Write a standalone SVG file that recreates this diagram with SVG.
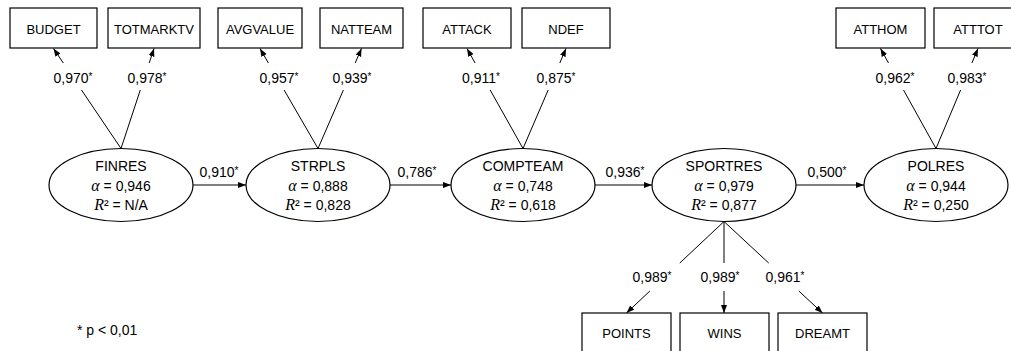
<svg xmlns="http://www.w3.org/2000/svg" width="1011" height="351" viewBox="0 0 1011 351">
<style>
text{font-family:"Liberation Sans",Arial,sans-serif;font-size:14px;fill:#000}
.box{fill:#fff;stroke:#000;stroke-width:1.2}
.bt{font-size:13px}
.lv{fill:#fff;stroke:#000;stroke-width:1.2}
.c{text-anchor:middle}
.ln{stroke:#000;stroke-width:1;fill:none}
.ar{stroke:#000;stroke-width:1;fill:none;marker-end:url(#ah)}
.it{font-family:"Liberation Serif","DejaVu Serif",serif;font-style:italic;font-size:16px}
.sup{font-size:10px}
</style>
<defs>
<marker id="ah" markerUnits="userSpaceOnUse" markerWidth="9" markerHeight="7" refX="8" refY="3" orient="auto">
<path d="M0,0 L8,3 L0,6 z" fill="#000"/>
</marker>
</defs>
<g id="connectors">
<line class="ln" x1="121" y1="148.5" x2="81.5" y2="90"/><line class="ar" x1="63.3" y1="63" x2="53.5" y2="48.5"/>
<line class="ln" x1="121" y1="148.5" x2="140.3" y2="90"/><line class="ar" x1="149.2" y1="63" x2="154" y2="48.5"/>
<line class="ln" x1="318" y1="148.5" x2="284.1" y2="90"/><line class="ar" x1="268.4" y1="63" x2="260" y2="48.5"/>
<line class="ln" x1="318" y1="148.5" x2="343.4" y2="90"/><line class="ar" x1="355.2" y1="63" x2="361.5" y2="48.5"/>
<line class="ln" x1="523" y1="148.5" x2="490.2" y2="90"/><line class="ar" x1="475.1" y1="63" x2="467" y2="48.5"/>
<line class="ln" x1="523" y1="148.5" x2="548.2" y2="90"/><line class="ar" x1="559.8" y1="63" x2="566" y2="48.5"/>
<line class="ln" x1="936" y1="148.5" x2="903.5" y2="90"/><line class="ar" x1="888.5" y1="63" x2="880.5" y2="48.5"/>
<line class="ln" x1="936" y1="148.5" x2="960.6" y2="90"/><line class="ar" x1="971.9" y1="63" x2="978" y2="48.5"/>
<line class="ar" x1="193" y1="185" x2="246" y2="185"/>
<line class="ar" x1="390" y1="185" x2="451" y2="185"/>
<line class="ar" x1="595" y1="185" x2="652" y2="185"/>
<line class="ar" x1="796" y1="185" x2="864" y2="185"/>
<line class="ln" x1="724" y1="221.5" x2="679.8" y2="263"/><line class="ar" x1="649.9" y1="291" x2="626.5" y2="313"/>
<line class="ln" x1="724" y1="221.5" x2="724" y2="263"/><line class="ar" x1="724" y1="291" x2="724" y2="313"/>
<line class="ln" x1="724" y1="221.5" x2="768.7" y2="263"/><line class="ar" x1="798.8" y1="291" x2="822.5" y2="313"/>
<text class="c" x="73" y="82.5">0,970<tspan class="sup" dy="-3">*</tspan></text>
<text class="c" x="147" y="82.5">0,978<tspan class="sup" dy="-3">*</tspan></text>
<text class="c" x="279" y="82.5">0,957<tspan class="sup" dy="-3">*</tspan></text>
<text class="c" x="352" y="82.5">0,939<tspan class="sup" dy="-3">*</tspan></text>
<text class="c" x="481" y="82.5">0,911<tspan class="sup" dy="-3">*</tspan></text>
<text class="c" x="556" y="82.5">0,875<tspan class="sup" dy="-3">*</tspan></text>
<text class="c" x="895" y="82.5">0,962<tspan class="sup" dy="-3">*</tspan></text>
<text class="c" x="967" y="82.5">0,983<tspan class="sup" dy="-3">*</tspan></text>
<text class="c" x="219" y="176.5">0,910<tspan class="sup" dy="-3">*</tspan></text>
<text class="c" x="417" y="176.5">0,786<tspan class="sup" dy="-3">*</tspan></text>
<text class="c" x="625" y="176.5">0,936<tspan class="sup" dy="-3">*</tspan></text>
<text class="c" x="827" y="176.5">0,500<tspan class="sup" dy="-3">*</tspan></text>
<text class="c" x="652" y="281.5">0,989<tspan class="sup" dy="-3">*</tspan></text>
<text class="c" x="720" y="281.5">0,989<tspan class="sup" dy="-3">*</tspan></text>
<text class="c" x="785" y="281.5">0,961<tspan class="sup" dy="-3">*</tspan></text>
</g>
<g id="BUDGET"><rect class="box" x="10" y="8" width="87" height="40"/><text class="c bt" x="53.5" y="33.5">BUDGET</text></g>
<g id="TOTMARKTV"><rect class="box" x="108" y="8" width="92" height="40"/><text class="c bt" x="154" y="33.5">TOTMARKTV</text></g>
<g id="AVGVALUE"><rect class="box" x="218" y="8" width="84" height="40"/><text class="c bt" x="260" y="33.5">AVGVALUE</text></g>
<g id="NATTEAM"><rect class="box" x="320" y="8" width="83" height="40"/><text class="c bt" x="361.5" y="33.5">NATTEAM</text></g>
<g id="ATTACK"><rect class="box" x="423" y="8" width="88" height="40"/><text class="c bt" x="467" y="33.5">ATTACK</text></g>
<g id="NDEF"><rect class="box" x="522" y="8" width="88" height="40"/><text class="c bt" x="566" y="33.5">NDEF</text></g>
<g id="ATTHOM"><rect class="box" x="836" y="8" width="89" height="40"/><text class="c bt" x="880.5" y="33.5">ATTHOM</text></g>
<g id="ATTTOT"><rect class="box" x="934" y="8" width="88" height="40"/><text class="c bt" x="978" y="33.5">ATTTOT</text></g>
<g id="FINRES"><ellipse class="lv" cx="121" cy="185" rx="72" ry="36.5"/><text class="c" x="121" y="171">FINRES</text><text class="c" x="121" y="190.5"><tspan class="it">α</tspan> = 0,946</text><text class="c" x="121" y="210"><tspan class="it">R</tspan>² = N/A</text></g>
<g id="STRPLS"><ellipse class="lv" cx="318" cy="185" rx="72" ry="36.5"/><text class="c" x="318" y="171">STRPLS</text><text class="c" x="318" y="190.5"><tspan class="it">α</tspan> = 0,888</text><text class="c" x="318" y="210"><tspan class="it">R</tspan>² = 0,828</text></g>
<g id="COMPTEAM"><ellipse class="lv" cx="523" cy="185" rx="72" ry="36.5"/><text class="c" x="523" y="171">COMPTEAM</text><text class="c" x="523" y="190.5"><tspan class="it">α</tspan> = 0,748</text><text class="c" x="523" y="210"><tspan class="it">R</tspan>² = 0,618</text></g>
<g id="SPORTRES"><ellipse class="lv" cx="724" cy="185" rx="72" ry="36.5"/><text class="c" x="724" y="171">SPORTRES</text><text class="c" x="724" y="190.5"><tspan class="it">α</tspan> = 0,979</text><text class="c" x="724" y="210"><tspan class="it">R</tspan>² = 0,877</text></g>
<g id="POLRES"><ellipse class="lv" cx="936" cy="185" rx="72" ry="36.5"/><text class="c" x="936" y="171">POLRES</text><text class="c" x="936" y="190.5"><tspan class="it">α</tspan> = 0,944</text><text class="c" x="936" y="210"><tspan class="it">R</tspan>² = 0,250</text></g>
<g id="POINTS"><rect class="box" x="582" y="313" width="89" height="40"/><text class="c bt" x="626.5" y="338">POINTS</text></g>
<g id="WINS"><rect class="box" x="680" y="313" width="89" height="40"/><text class="c bt" x="724.5" y="338">WINS</text></g>
<g id="DREAMT"><rect class="box" x="778" y="313" width="89" height="40"/><text class="c bt" x="822.5" y="338">DREAMT</text></g>
<g id="note"><text x="77" y="335">* p &lt; 0,01</text></g>
</svg>
